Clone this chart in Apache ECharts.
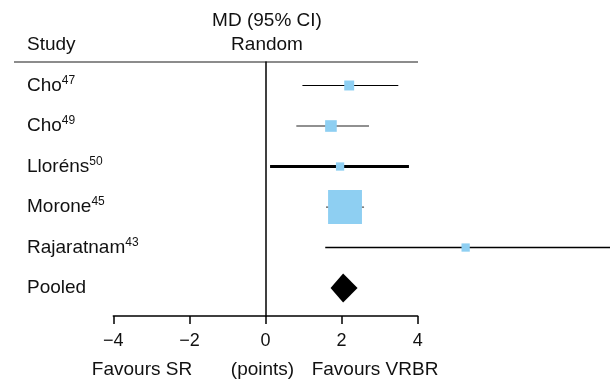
<!DOCTYPE html>
<html>
<head>
<meta charset="utf-8">
<script src="https://cdn.jsdelivr.net/npm/echarts@6/dist/echarts.min.js"></script>
<style>
  html, body { margin: 0; padding: 0; background: #fff; }
  #chart { width: 610px; height: 380px; }
</style>
</head>
<body>
<div id="chart"></div>
<script>
// forest plot: MD (95% CI), random effects

var studies = ['Cho', 'Cho', 'Lloréns', 'Morone', 'Rajaratnam'];
var refs = ['47', '49', '50', '45', '43'];
var md = [2.20, 1.72, 1.96, 2.09, 5.26];
var ciLow = [0.97, 0.81, 0.12, 1.59, 1.57];
var ciHigh = [3.49, 2.72, 3.77, 2.59, 9.5];
var weights = [6.5, 8.9, 4.5, 75.5, 4.5];

var pooledLabel = 'Pooled';
var pooledMd = 2.04;
var pooledLow = 1.71;
var pooledHigh = 2.42;

var footLabels = ['Favours SR', '(points)', 'Favours VRBR'];

// styles
var FONT = "'Liberation Sans', Arial, Helvetica, sans-serif";
var BOX_COLOR = '#8ecff2';
var ciWidth = [1.2, 1.2, 3, 1.2, 1.4];
var ciColor = ['#000', '#222', '#000', '#555', '#000'];

var studyData = studies.map(function (s, i) {
  return [i, md[i], ciLow[i], ciHigh[i], weights[i]];
});
var labelData = studies.map(function (s, i) {
  return [i, '{n|' + s + '}{s|' + refs[i] + '}'];
});
labelData.push([studies.length, '{n|' + pooledLabel + '}']);

function renderStudy(params, api) {
  var row = api.value(0);
  var c = api.coord([api.value(1), row]);
  var lo = api.coord([api.value(2), row]);
  var hi = api.coord([api.value(3), row]);
  var s = Math.sqrt(api.value(4)) * 3.9;
  return {
    type: 'group',
    children: [
      { type: 'line', shape: { x1: lo[0], y1: c[1], x2: hi[0], y2: c[1] },
        style: { stroke: ciColor[row], lineWidth: ciWidth[row] } },
      { type: 'rect', shape: { x: c[0] - s / 2, y: c[1] - s / 2, width: s, height: s },
        style: { fill: BOX_COLOR } }
    ]
  };
}

function renderPooled(params, api) {
  var row = api.value(0);
  var c = api.coord([api.value(1), row]);
  var lo = api.coord([api.value(2), row]);
  var hi = api.coord([api.value(3), row]);
  var h = 14.5;
  return {
    type: 'polygon',
    shape: { points: [[lo[0], c[1]], [c[0], c[1] - h], [hi[0], c[1]], [c[0], c[1] + h]] },
    style: { fill: '#000' }
  };
}

function renderLabel(params, api) {
  var y = api.coord([0, api.value(0)])[1];
  return {
    type: 'text',
    x: 27,
    y: y,
    style: {
      text: labelData[params.dataIndex][1],
      align: 'left',
      verticalAlign: 'middle',
      fill: '#111',
      rich: {
        n: { fontSize: 19, fontFamily: FONT, lineHeight: 22, fill: '#111' },
        s: { fontSize: 12, fontFamily: FONT, lineHeight: 18, verticalAlign: 'top', fill: '#111' }
      }
    }
  };
}

function textEl(str, x, y, align) {
  return {
    type: 'text',
    style: {
      text: str, x: x, y: y,
      fontSize: 19, fontFamily: FONT, fill: '#111',
      align: align, textAlign: align,
      verticalAlign: 'middle', textVerticalAlign: 'middle'
    }
  };
}

var chart = echarts.init(document.getElementById('chart'), null, { renderer: 'canvas' });

chart.setOption({
  animation: false,
  backgroundColor: '#fff',
  grid: { left: 113.3, right: 192.3, top: 62, bottom: 64 },
  xAxis: {
    type: 'value',
    min: -4,
    max: 4,
    interval: 2,
    axisLine: { onZero: false, lineStyle: { color: '#000', width: 1.5 } },
    axisTick: { inside: false, length: 8, lineStyle: { color: '#000', width: 1.5 } },
    axisLabel: {
      color: '#111', fontSize: 18, fontFamily: FONT, margin: 16,
      formatter: function (v) { return String(v).replace('-', '\u2212'); }
    },
    splitLine: { show: false }
  },
  yAxis: {
    type: 'value',
    inverse: true,
    min: -0.58,
    max: 5.69,
    axisLine: { show: true, onZero: true, lineStyle: { color: '#000', width: 1.5 } },
    axisTick: { show: false },
    axisLabel: { show: false },
    splitLine: { show: false }
  },
  graphic: [
    { type: 'line', shape: { x1: 14, y1: 62, x2: 418, y2: 62 },
      style: { stroke: '#666', lineWidth: 1.6 } },
    textEl('Study', 27, 45, 'left'),
    textEl('MD (95% CI)', 267, 21, 'center'),
    textEl('Random', 267, 45, 'center'),
    textEl(footLabels[0], 142, 370, 'center'),
    textEl(footLabels[1], 262.5, 370, 'center'),
    textEl(footLabels[2], 375, 370, 'center')
  ],
  series: [
    {
      type: 'custom',
      renderItem: renderStudy,
      data: studyData,
      encode: { x: [1, 2, 3], y: 0 },
      clip: false
    },
    {
      type: 'custom',
      renderItem: renderPooled,
      data: [[studies.length, pooledMd, pooledLow, pooledHigh]],
      encode: { x: [1, 2, 3], y: 0 },
      clip: false
    },
    {
      type: 'custom',
      renderItem: renderLabel,
      data: labelData.map(function (d) { return [d[0]]; }),
      encode: { y: 0 },
      clip: false
    }
  ]
});
</script>
</body>
</html>
